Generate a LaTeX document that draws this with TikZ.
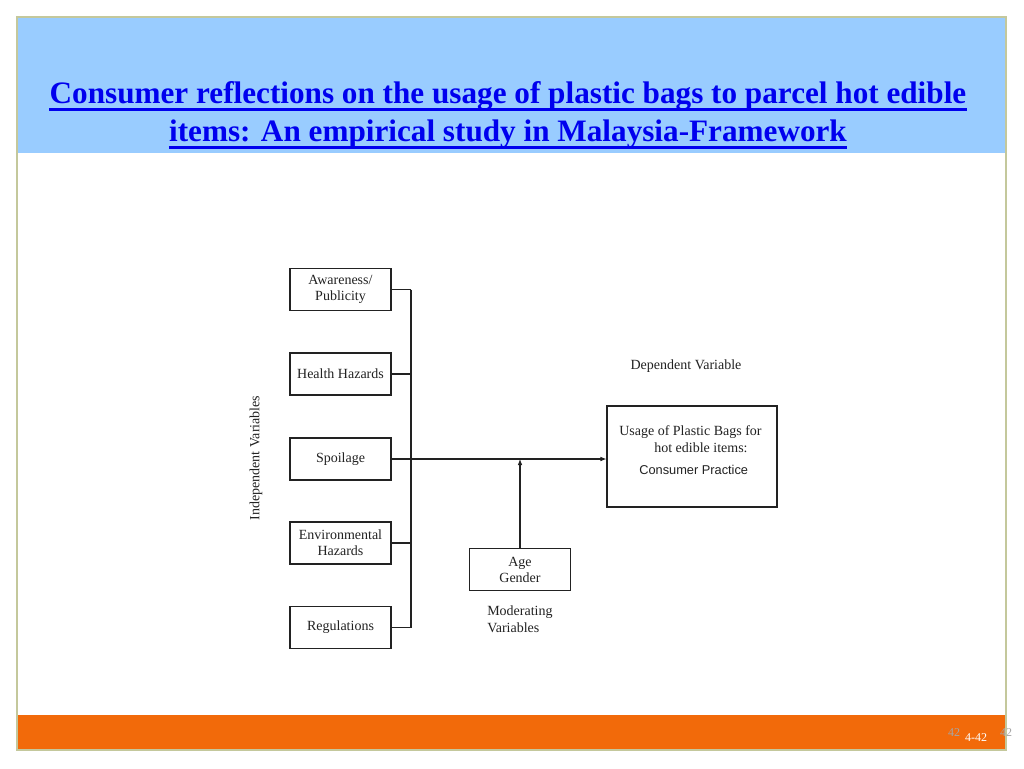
\documentclass[tikz,border=0pt]{standalone}
\usepackage{fontspec}
\setmainfont{Liberation Serif}
\newfontfamily\arialfont{Liberation Sans}
\usetikzlibrary{arrows.meta}
\definecolor{hdrblue}{HTML}{99CCFF}
\definecolor{ttlblue}{HTML}{0000EE}
\definecolor{barorange}{HTML}{F26A0A}
\definecolor{framecol}{HTML}{C4C89C}
\definecolor{ink}{HTML}{222222}
\tikzset{
  varbox/.style={draw=ink, line width=0.8pt, minimum width=75.75pt, minimum height=31.5pt,
    inner sep=1pt, align=center, font=\fontsize{10.5pt}{12pt}\selectfont, text=ink},
  conn/.style={draw=ink, line width=0.8pt},
  arr/.style={conn, -{Latex[length=4.5pt,width=3.5pt]}},
  lbl/.style={font=\fontsize{10.5pt}{12.5pt}\selectfont, text=ink, inner sep=0pt},
  ttl/.style={text=ttlblue, font=\bfseries\fontsize{23.4pt}{28pt}\selectfont, inner sep=0pt, anchor=base},
  uline/.style={draw=ttlblue, line width=1.9pt}
}
\begin{document}
\begin{tikzpicture}[x=0.75pt,y=-0.75pt]
\useasboundingbox (0,0) rectangle (1024,768);
\fill[white] (0,0) rectangle (1024,768);
% slide frame
\fill[hdrblue] (17,17) rectangle (1006,153);
\fill[barorange] (17,715) rectangle (1006,750);
\draw[framecol, line width=0.9pt] (17,17) rectangle (1006,750);
% title
\node[ttl] (t1) at (508,103) {Consumer reflections on the usage of plastic bags to parcel hot edible};
\node[ttl] (t2) at (508,141) {items: An empirical study in Malaysia-Framework};
\draw[uline] ([yshift=-4.8pt]t1.base west) -- ([yshift=-4.8pt]t1.base east);
\draw[uline] ([yshift=-4.8pt]t2.base west) -- ([yshift=-4.8pt]t2.base east);
% footer
\node[text=gray!70, font=\fontsize{9pt}{10pt}\selectfont, inner sep=0pt] (pg1) at (954,733) {42};
\node[text=white, font=\fontsize{9pt}{10pt}\selectfont, inner sep=0pt] (pg2) at (976,738) {4-42};
\node[text=gray!70, font=\fontsize{9pt}{10pt}\selectfont, inner sep=0pt] (pg3) at (1006,733) {42};
% independent variables
\node[varbox] (aw) at (340.5,289.5) {Awareness/\\Publicity};
\node[varbox] (hh) at (340.5,374) {Health Hazards};
\node[varbox] (sp) at (340.5,459) {Spoilage};
\node[varbox] (eh) at (340.5,543) {Environmental\\Hazards};
\node[varbox] (rg) at (340.5,627.5) {Regulations};
\node[lbl, rotate=90] (iv) at (256,458) {Independent Variables};
% bus
\coordinate (b1) at (411,289.5);
\coordinate (b2) at (411,374);
\coordinate (b4) at (411,543);
\coordinate (b5) at (411,627.5);
\draw[conn] (aw.east) -- (b1);
\draw[conn] (hh.east) -- (b2);
\draw[conn] (eh.east) -- (b4);
\draw[conn] (rg.east) -- (b5);
\draw[conn] (b1) -- (b5);
% dependent
\node[draw=ink, line width=0.8pt, minimum width=127.5pt, minimum height=75.75pt, inner sep=0pt] (dv) at (692,456.5) {};
\node[lbl, anchor=west] (dv1) at (619,432) {Usage of Plastic Bags for};
\node[lbl, anchor=west] (dv2) at (654,448) {hot edible items:};
\node[lbl, anchor=west, font=\arialfont\fontsize{9.6pt}{11pt}\selectfont] (dv3) at (639,470) {Consumer Practice};
\node[lbl] (dvl) at (686,366) {Dependent Variable};
\draw[arr] (sp.east) -- (sp.east -| dv.west);
% moderating
\node[varbox] (ag) at (520,569.5) {Age\\Gender};
\coordinate (mj) at (520,459);
\draw[arr] (ag.north) -- (mj);
\node[lbl, align=left, anchor=north west] (mv) at (487,606) {Moderating\\Variables};
\end{tikzpicture}
\end{document}
